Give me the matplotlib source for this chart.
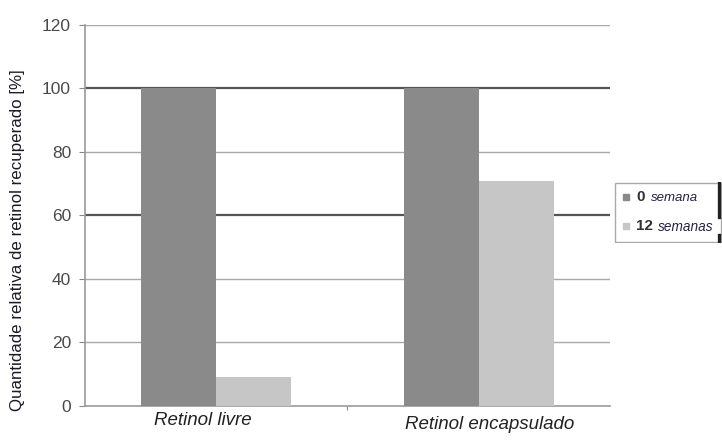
import matplotlib
matplotlib.use("Agg")
import matplotlib.pyplot as plt
from matplotlib.patches import Rectangle
import numpy as np

plt.rcParams['font.family'] = ['Liberation Sans', 'DejaVu Sans']

categories = ["Retinol livre", "Retinol encapsulado"]
week0 = [100, 100]
week12 = [9, 71]
yticks = [0, 20, 40, 60, 80, 100, 120]
dark_grid = [60, 100]

c_dark = "#8a8a8a"
c_light = "#c6c6c6"

fig = plt.figure(figsize=(7.22, 4.41), dpi=100)
ax = fig.add_axes([0.1177, 0.0794, 0.727, 0.864])

x = np.arange(len(categories))
w = 0.286
ax.bar(x - w / 2, week0, w, color=c_dark, zorder=3)
ax.bar(x + w / 2, week12, w, color=c_light, zorder=3)

ax.set_xlim(-0.5, 1.5)
ax.set_ylim(0, 120)
ax.set_yticks(yticks)
ax.set_yticklabels([str(v) for v in yticks], fontsize=12.5, color="#4a4a4a")
for v in yticks[1:]:
    col = "#555555" if v in dark_grid else "#a8a8a8"
    lw = 1.6 if v in dark_grid else 1.0
    ax.axhline(v, color=col, lw=lw, zorder=1)

ax.set_xticks([0.5])
ax.set_xticklabels([""])
ax.tick_params(axis="x", length=3, color="#888888")
ax.tick_params(axis="y", length=4, color="#888888", pad=6)
for s in ["top", "right"]:
    ax.spines[s].set_visible(False)
ax.spines["left"].set_color("#999999")
ax.spines["bottom"].set_color("#999999")
ax.spines["left"].set_linewidth(1.2)
ax.spines["bottom"].set_linewidth(1.2)

# category labels below the groups
ax.text(-0.05, -1.8, categories[0], ha="center", va="top", fontsize=13.5,
        style="italic", color="#222222")
ax.text(1.04, -3.3, categories[1], ha="center", va="top", fontsize=13.5,
        style="italic", color="#222222")

fig.text(18 / 722, 1 - 240 / 441, "Quantidade relativa de retinol recuperado [%]",
         rotation=90, ha="center", va="center", fontsize=12.2,
         color="#1a1a2a")

# legend box
leg = fig.add_axes([614 / 722, 1 - 243 / 441, 108 / 722, 61 / 441])
leg.set_xlim(0, 108)
leg.set_ylim(61, 0)
leg.axis("off")
leg.add_patch(Rectangle((0.5, 0.5), 106, 60, fill=False, ec="#aaaaaa", lw=1))
leg.plot([105, 105], [1, 35], color="#222222", lw=2.4)
leg.plot([105, 105], [53, 60], color="#222222", lw=2.4)
leg.add_patch(Rectangle((9, 12), 6, 6, color=c_dark))
leg.add_patch(Rectangle((9, 41), 6, 6, color=c_light))
leg.text(22, 15, "0", fontsize=11, fontweight="bold", va="center", color="#333333")
leg.text(37, 16, "semana", fontsize=9.5, style="italic", va="center", color="#222244")
leg.text(22, 44, "12", fontsize=11, fontweight="bold", va="center", color="#333333")
leg.text(44, 45, "semanas", fontsize=9.8, style="italic", va="center", color="#222244")

fig.savefig("out.png", dpi=100)
